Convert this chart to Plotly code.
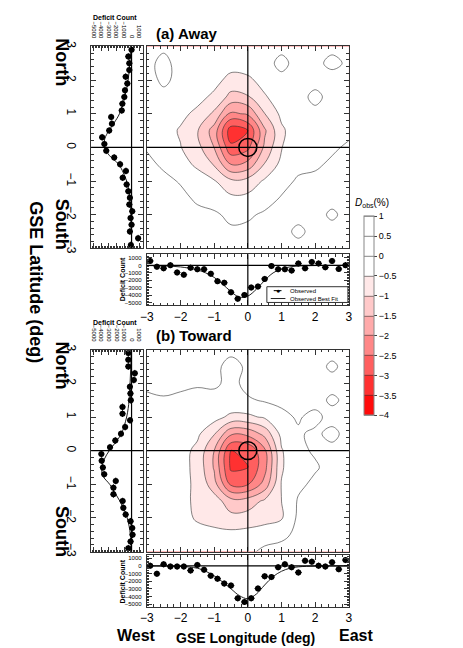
import plotly.graph_objects as go

W, H = 463, 648

# contour maps of D_obs (%) read on a 0.5 deg grid, rows listed from north (+3) to south (-3)
GRID_LON = [-3, -2.5, -2, -1.5, -1, -0.5, 0, 0.5, 1, 1.5, 2, 2.5, 3]
GRID_LAT = [3, 2.5, 2, 1.5, 1, 0.5, 0, -0.5, -1, -1.5, -2, -2.5, -3]

AWAY_MAP = [
    [-0.2, -0.1, -0.2, -0.25, -0.2, -0.15, -0.2, -0.2, -0.15, -0.2, -0.25, -0.15, -0.2],
    [-0.15, 0.15, -0.2, -0.2, -0.25, -0.3, -0.25, -0.2, 0.15, -0.2, -0.15, 0.15, -0.1],
    [-0.2, 0.1, -0.15, -0.2, -0.34, -0.66, -0.6, -0.32, -0.15, -0.1, -0.2, -0.25, -0.2],
    [-0.2, -0.15, -0.25, -0.35, -0.6, -1.16, -1.05, -0.55, -0.25, -0.2, 0.15, -0.2, -0.15],
    [-0.15, -0.2, -0.38, -0.61, -1.1, -2.11, -1.92, -1.01, -0.38, -0.2, -0.15, -0.2, -0.1],
    [-0.1, -0.3, -0.55, -0.96, -1.72, -3.3, -3.0, -1.58, -0.59, -0.2, -0.15, -0.1, -0.15],
    [-0.05, -0.3, -0.48, -0.84, -1.51, -2.9, -2.64, -1.39, -0.52, -0.2, -0.1, -0.1, 0.1],
    [0.15, -0.1, -0.34, -0.58, -1.05, -2.01, -1.83, -0.97, -0.36, -0.2, -0.1, 0.1, 0.2],
    [0.2, 0.15, -0.05, -0.3, -0.46, -0.89, -0.81, -0.43, -0.25, 0.1, 0.15, 0.2, 0.15],
    [0.15, 0.2, 0.15, -0.1, -0.3, -0.4, -0.38, -0.3, 0.05, 0.2, 0.15, 0.2, 0.25],
    [0.2, 0.15, 0.2, 0.15, 0.1, -0.15, -0.1, 0.1, 0.2, 0.15, 0.2, -0.1, 0.2],
    [0.15, 0.2, 0.15, 0.2, 0.15, 0.1, 0.15, 0.2, 0.15, -0.1, 0.15, 0.2, 0.15],
    [0.2, 0.15, 0.2, 0.15, 0.2, 0.15, 0.2, 0.15, 0.2, 0.15, 0.2, 0.15, 0.2],
]

TOWARD_MAP = [
    [0.2, 0.15, 0.2, 0.15, 0.1, 0.15, 0.2, 0.15, 0.2, 0.15, 0.1, 0.2, 0.15],
    [0.15, 0.2, 0.15, 0.1, 0.15, -0.2, 0.1, 0.15, 0.2, 0.15, 0.2, -0.1, 0.2],
    [0.1, 0.15, 0.1, 0.05, 0.1, -0.15, 0.15, 0.2, 0.15, 0.2, 0.15, 0.2, 0.15],
    [-0.1, -0.05, -0.1, -0.15, -0.2, -0.1, -0.06, 0.05, 0.1, 0.15, 0.2, -0.1, 0.15],
    [-0.15, -0.2, -0.1, -0.13, -0.31, -0.62, -0.6, -0.43, -0.11, 0.05, -0.15, 0.2, 0.1],
    [-0.2, -0.15, -0.19, -0.4, -0.96, -1.92, -1.86, -1.35, -0.35, -0.06, 0.1, -0.15, 0.2],
    [-0.15, -0.2, -0.3, -0.63, -1.5, -3.01, -2.92, -2.1, -0.54, -0.09, 0.05, 0.15, 0.1],
    [-0.2, -0.15, -0.31, -0.65, -1.55, -3.1, -3.01, -2.17, -0.56, -0.09, -0.05, 0.15, 0.2],
    [-0.15, -0.2, -0.42, -0.55, -1.3, -2.6, -2.53, -1.82, -0.47, -0.1, 0.1, 0.2, 0.15],
    [-0.2, -0.15, -0.2, -0.7, -0.75, -1.3, -1.26, -0.91, -0.5, 0.05, 0.15, 0.2, 0.15],
    [-0.15, -0.1, -0.2, -0.6, -0.75, -0.85, -0.8, -0.7, -0.55, 0.1, 0.2, 0.15, 0.2],
    [-0.2, -0.15, -0.1, -0.2, -0.3, -0.35, -0.3, -0.2, -0.1, 0.1, 0.15, 0.2, 0.15],
    [-0.15, -0.2, -0.15, -0.1, -0.15, -0.2, -0.1, 0.1, 0.15, 0.2, 0.15, 0.1, 0.2],
]

# 1D deficit profiles, 0.2 deg bins
LAT_BINS = [2.9, 2.7, 2.5, 2.3, 2.1, 1.9, 1.7, 1.5, 1.3, 1.1, 0.9, 0.7, 0.5, 0.3, 0.1,
            -0.1, -0.3, -0.5, -0.7, -0.9, -1.1, -1.3, -1.5, -1.7, -1.9, -2.1, -2.3, -2.5, -2.7, -2.9]
LON_BINS = [-2.9, -2.7, -2.5, -2.3, -2.1, -1.9, -1.7, -1.5, -1.3, -1.1, -0.9, -0.7, -0.5, -0.3, -0.1,
            0.1, 0.3, 0.5, 0.7, 0.9, 1.1, 1.3, 1.5, 1.7, 1.9, 2.1, 2.3, 2.5, 2.7, 2.9]

AWAY_LAT = [0, -430, -300, -300, -780, -560, -870, -960, -1220, -1300, -2700, -2600, -2960, -3900, -3600,
            -3350, -2300, -1520, -740, -1170, -650, -430, -220, -300, 90, -130, 0, -220, 870, -90]
AWAY_LON = [600, -170, -390, 40, -940, -1240, -300, -510, -510, -1120, -2100, -2320, -3600, -4460, -3950,
            -2960, -2830, -1800, -90, -510, -510, -690, 260, -390, 470, 260, -260, 600, -470, 40]
TOWARD_LAT = [-430, -430, -430, 430, 300, -220, -150, -100, -1200, -1200, -200, -850, -1400, -2150, -2850,
              -4000, -3950, -3800, -3620, -2090, -2400, -2400, -1180, -1090, -780, -130, 90, 130, -130, -430]
TOWARD_LON = [40, -1030, 210, -90, -90, -90, -600, 130, -510, -1290, -1670, -2320, -2580, -4250, -4720,
              -4250, -2960, -1370, -1460, -170, 210, -170, -860, 690, 560, 40, -90, 470, -430, 770]
COUNT_ERR = 400
BIN_HALF = 0.1

# best-fit curves
AWAY_LAT_FIT_AT = [3, 2.5, 2, 1.5, 1, 0.75, 0.5, 0.25, 0, -0.25, -0.5, -0.75, -1, -1.25, -1.5, -2, -2.5, -3]
AWAY_LAT_FIT = [-100, -250, -450, -900, -1600, -2250, -3000, -3550, -3600, -2900, -1700, -1100, -650, -400,
                -220, -80, -20, 0]
AWAY_LON_FIT_AT = [-3, -2.5, -2, -1.5, -1.25, -1, -0.75, -0.5, -0.25, 0, 0.25, 0.5, 0.75, 1, 1.25, 1.5, 2, 2.5, 3]
AWAY_LON_FIT = [-20, -60, -200, -600, -1000, -1600, -2500, -3500, -4250, -4100, -3200, -2000, -1000, -450,
                -200, -80, -20, 0, 0]
TOWARD_LAT_FIT_AT = [3, 2.5, 2, 1.5, 1.25, 1, 0.75, 0.5, 0.25, 0, -0.25, -0.5, -0.75, -1, -1.25, -1.5, -1.75,
                     -2, -2.25, -2.5, -3]
TOWARD_LAT_FIT = [-60, -100, -200, -330, -450, -650, -950, -1350, -2100, -2950, -3600, -3950, -3800, -2900,
                  -2200, -1550, -1000, -580, -320, -160, -40]
TOWARD_LON_FIT_AT = [-3, -2.5, -2, -1.5, -1.25, -1, -0.75, -0.5, -0.25, 0, 0.25, 0.5, 0.75, 1, 1.25, 1.5, 2, 2.5, 3]
TOWARD_LON_FIT = [0, -10, -50, -300, -700, -1300, -2100, -3000, -3900, -4300, -3700, -2500, -1400, -700, -300,
                  -120, -20, 0, 0]

DEG_TICKS = [-3, -2, -1, 0, 1, 2, 3]
COUNT_TICKS = [-5000, -4000, -3000, -2000, -1000, 0, 1000]
CBAR_TICKS = [1, 0.5, 0, -0.5, -1, -1.5, -2, -2.5, -3, -3.5, -4]
SUN_RADIUS = 0.267

# colour of each 0.5 band, centred at -4.25 ... 1.25
BAND_COLORS = ["rgb(255,0,0)", "rgb(255,20,20)", "rgb(255,65,65)", "rgb(255,105,105)", "rgb(255,140,140)",
               "rgb(255,172,172)", "rgb(255,200,200)", "rgb(255,228,228)", "white", "white", "white", "white"]
colorscale = [[i / (len(BAND_COLORS) - 1), c] for i, c in enumerate(BAND_COLORS)]

FONT = "Liberation Sans, Arial"


def fx(p):
    return p / W


def fy(p):
    return 1 - p / H


fig = go.Figure()

contour_style = dict(
    autocontour=False,
    contours=dict(start=-4, end=1, size=0.5, coloring="fill", showlines=True),
    zmin=-4, zmax=1,
    colorscale=colorscale,
    line=dict(color="#333", width=0.6, smoothing=1.1),
)

fig.add_trace(go.Contour(
    x=GRID_LON, y=GRID_LAT[::-1], z=AWAY_MAP[::-1], xaxis="x", yaxis="y",
    colorbar=dict(x=fx(357), xanchor="left", y=fy(307.5), yanchor="middle",
                  len=199, lenmode="pixels", thickness=10, thicknessmode="pixels",
                  xpad=0, ypad=0, outlinecolor="#888", outlinewidth=1,
                  tickmode="array", tickvals=CBAR_TICKS, ticks="outside", ticklen=3,
                  tickcolor="#444", tickfont=dict(family=FONT, size=9, color="black")),
    **contour_style))
fig.add_trace(go.Contour(
    x=GRID_LON, y=GRID_LAT[::-1], z=TOWARD_MAP[::-1], xaxis="x4", yaxis="y4",
    showscale=False, **contour_style))

marker = dict(color="black", size=6, symbol="circle")
err = dict(color="black", thickness=1, width=0)
fit_line = dict(color="#222", width=1, shape="spline")

for lat, lon, lat_fit_at, lat_fit, lon_fit_at, lon_fit, xs, xb in [
    (AWAY_LAT, AWAY_LON, AWAY_LAT_FIT_AT, AWAY_LAT_FIT, AWAY_LON_FIT_AT, AWAY_LON_FIT, "2", "3"),
    (TOWARD_LAT, TOWARD_LON, TOWARD_LAT_FIT_AT, TOWARD_LAT_FIT, TOWARD_LON_FIT_AT, TOWARD_LON_FIT, "5", "6"),
]:
    fig.add_trace(go.Scatter(x=lat_fit, y=lat_fit_at, mode="lines", line=fit_line,
                             xaxis="x" + xs, yaxis="y" + xs, showlegend=False))
    fig.add_trace(go.Scatter(x=lat, y=LAT_BINS, mode="markers", marker=marker,
                             error_x=dict(type="constant", value=COUNT_ERR, **err),
                             error_y=dict(type="constant", value=BIN_HALF, **err),
                             xaxis="x" + xs, yaxis="y" + xs, showlegend=False))
    fig.add_trace(go.Scatter(x=lon_fit_at, y=lon_fit, mode="lines", line=fit_line,
                             xaxis="x" + xb, yaxis="y" + xb, showlegend=False))
    fig.add_trace(go.Scatter(x=LON_BINS, y=lon, mode="markers", marker=marker,
                             error_y=dict(type="constant", value=COUNT_ERR, **err),
                             error_x=dict(type="constant", value=BIN_HALF, **err),
                             xaxis="x" + xb, yaxis="y" + xb, showlegend=False))

frame = dict(showline=True, linecolor="#333", linewidth=1, mirror="allticks", showgrid=False,
             zeroline=False, ticks="inside", tickcolor="#333", ticklen=5)
deg_axis = dict(frame, range=[-3, 3], tickvals=DEG_TICKS,
                minor=dict(dtick=0.2, ticks="inside", ticklen=2.5, tickcolor="#333"))
count_axis = dict(frame, range=[-5350, 1500], tickvals=COUNT_TICKS,
                  minor=dict(dtick=200, ticks="inside", ticklen=2, tickcolor="#333"),
                  tickfont=dict(family=FONT, size=6, color="black"))

# vertical positions of the two blocks (pixels)
blocks = [(34, 239, 245, 297), (342, 547, 550, 603)]
layout = {}
for k, (top, bot, ptop, pbot) in enumerate(blocks):
    c, s, b = 1 + 3 * k, 2 + 3 * k, 3 + 3 * k
    cs, ss, bs = ("" if c == 1 else str(c)), str(s), str(b)
    layout["xaxis" + cs] = dict(deg_axis, domain=[fx(135), fx(342)], anchor="y" + cs, showticklabels=False)
    layout["yaxis" + cs] = dict(deg_axis, domain=[fy(bot), fy(top)], anchor="x" + cs, showticklabels=False)
    layout["xaxis" + ss] = dict(count_axis, domain=[fx(78), fx(131)], anchor="y" + ss, side="top",
                                tickangle=90, ticklabelstandoff=5)
    layout["yaxis" + ss] = dict(deg_axis, domain=[fy(bot), fy(top)], anchor="x" + ss, tickangle=90,
                                ticklabelstandoff=9, tickfont=dict(family=FONT, size=12, color="black"))
    layout["xaxis" + bs] = dict(deg_axis, domain=[fx(135), fx(342)], anchor="y" + bs,
                                ticklabelstandoff=0, tickfont=dict(family=FONT, size=12, color="black"))
    layout["yaxis" + bs] = dict(count_axis, domain=[fy(pbot), fy(ptop)], anchor="x" + bs,
                                ticklabelstandoff=3)

shapes = []
dark = dict(color="black", width=1.2)
for c, s, b in [("", "2", "3"), ("4", "5", "6")]:
    xc = "x" if c == "" else "x" + c
    yc = "y" if c == "" else "y" + c
    shapes += [
        dict(type="line", xref=xc, yref=yc + " domain", x0=0, x1=0, y0=0, y1=1, line=dark),
        dict(type="line", xref=xc + " domain", yref=yc, x0=0, x1=1, y0=0, y1=0, line=dark),
        dict(type="circle", xref=xc, yref=yc, x0=-SUN_RADIUS, x1=SUN_RADIUS,
             y0=-SUN_RADIUS, y1=SUN_RADIUS, line=dict(color="black", width=1.5)),
        dict(type="line", xref="x" + s, yref="y" + s + " domain", x0=0, x1=0, y0=0, y1=1, line=dark),
        dict(type="line", xref="x" + s + " domain", yref="y" + s, x0=0, x1=1, y0=0, y1=0, line=dark),
        dict(type="line", xref="x" + b + " domain", yref="y" + b, x0=0, x1=1, y0=0, y1=0, line=dark),
        dict(type="line", xref="x" + b, yref="y" + b + " domain", x0=0, x1=0, y0=0, y1=1, line=dark),
    ]

# legend box of panel (a)
shapes += [
    dict(type="rect", xref="paper", yref="paper", x0=fx(258), x1=fx(341), y0=fy(294), y1=fy(278),
         line=dict(color="#333", width=1), fillcolor="white"),
    dict(type="line", xref="paper", yref="paper", x0=fx(262), x1=fx(277), y0=fy(290), y1=fy(290),
         line=dict(color="#222", width=1)),
    dict(type="line", xref="paper", yref="paper", x0=fx(265), x1=fx(273), y0=fy(282), y1=fy(282),
         line=dict(color="black", width=1)),
]


def note(text, x, y, size, angle=0, bold=True, xanchor="center"):
    return dict(text=("<b>%s</b>" % text) if bold else text, x=fx(x), y=fy(y), xref="paper", yref="paper",
                showarrow=False, textangle=angle, xanchor=xanchor, yanchor="middle", borderpad=0,
                font=dict(family=FONT, size=size, color="black"))


annotations = [
    note("(a) Away", 143, 21, 15, xanchor="left"),
    note("(b) Toward", 143, 328, 15, xanchor="left"),
    note("Deficit Count", 102, 5, 7),
    note("Deficit Count", 102, 314, 7),
    note("Deficit Count", 110, 270, 7, angle=-90),
    note("Deficit Count", 110, 577, 7, angle=-90),
    note("North", 48, 50, 18, angle=90),
    note("South", 48, 215, 18, angle=90),
    note("North", 48, 358, 18, angle=90),
    note("South", 48, 527, 18, angle=90),
    note("GSE Latitude (deg)", 22, 274, 18, angle=90),
    note("West", 124, 632, 16),
    note("GSE Longitude (deg)", 236, 635, 14),
    note("East", 349, 632, 16),
    note("<i>D</i><sub>obs</sub>(%)", 366, 193, 10, bold=False),
    note("●", 269, 282, 7, bold=False),
    note("Observed", 281, 282, 6, bold=False, xanchor="left"),
    note("Observed Best Fit", 281, 290, 6, bold=False, xanchor="left"),
]

fig.update_layout(
    width=W, height=H, autosize=False,
    margin=dict(l=0, r=0, t=0, b=0),
    paper_bgcolor="white", plot_bgcolor="white",
    showlegend=False,
    shapes=shapes, annotations=annotations,
    font=dict(family=FONT, color="black"),
    **layout,
)

fig.write_html("out.html")
